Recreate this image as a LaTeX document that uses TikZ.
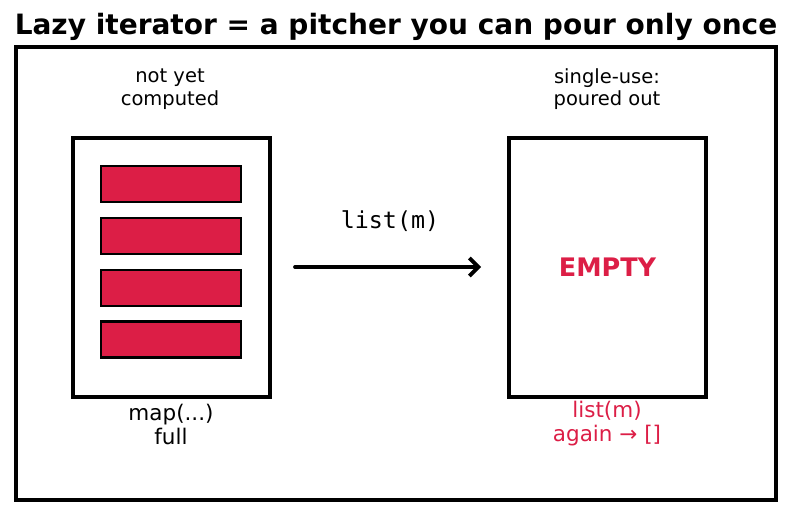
\documentclass[tikz,border=0pt]{standalone}
\usepackage{fontspec}
\setmainfont{DejaVu Sans}
\setmonofont{DejaVu Sans Mono}
\usetikzlibrary{arrows.meta}
\definecolor{crim}{HTML}{DC1E46}
\begin{document}
\begin{tikzpicture}[x=1pt,y=-1pt,
  frame/.style={draw=black,line width=3.8pt},
  bar/.style={draw=black,fill=crim,line width=2.5pt},
  lbl/.style={align=center,font=\fontsize{19.5}{22.5}\selectfont,inner sep=0pt},
  blbl/.style={align=center,font=\fontsize{21.5}{24}\selectfont,inner sep=0pt},
  conn/.style={line width=3.8pt,-{Straight Barb[length=9pt,width=18pt,line width=3.8pt]},line cap=round}]
\useasboundingbox (0,0) rectangle (792,514);
\node[inner sep=0pt,font=\bfseries\fontsize{28}{32}\selectfont] (title) at (396,27) {Lazy iterator = a pitcher you can pour only once};
\draw[frame] (16,47) rectangle (776,500);
\node[frame,minimum width=197pt,minimum height=259pt,inner sep=0pt] (left) at (171.5,267.5) {};
\node[frame,minimum width=197pt,minimum height=259pt,inner sep=0pt] (right) at (607.5,267.5) {};
\node[bar,minimum width=140pt,minimum height=36pt,inner sep=0pt] (b1) at (171,184) {};
\node[bar,minimum width=140pt,minimum height=36pt,inner sep=0pt] (b2) at (171,236) {};
\node[bar,minimum width=140pt,minimum height=36pt,inner sep=0pt] (b3) at (171,288) {};
\node[bar,minimum width=140pt,minimum height=36pt,inner sep=0pt] (b4) at (171,339.5) {};
\node[font=\bfseries\fontsize{25.5}{30}\selectfont,text=crim,inner sep=0pt] (empty) at (right.center) {EMPTY};
\node[lbl] (top1) at (170,89) {not yet\\computed};
\node[lbl] (top2) at (607,89) {single-use:\\poured out};
\node[blbl] (bot1) at (171,424) {map(...)\\full};
\node[blbl,text=crim] (bot2) at (607,424) {list(m)\\again → []};
\coordinate (as) at (295,267);
\coordinate (ae) at (481,267);
\draw[conn] (as) -- (ae);
\node[font=\ttfamily\fontsize{23.3}{27}\selectfont,inner sep=0pt] (lab) at (390,221) {list(m)};
\end{tikzpicture}
\end{document}
